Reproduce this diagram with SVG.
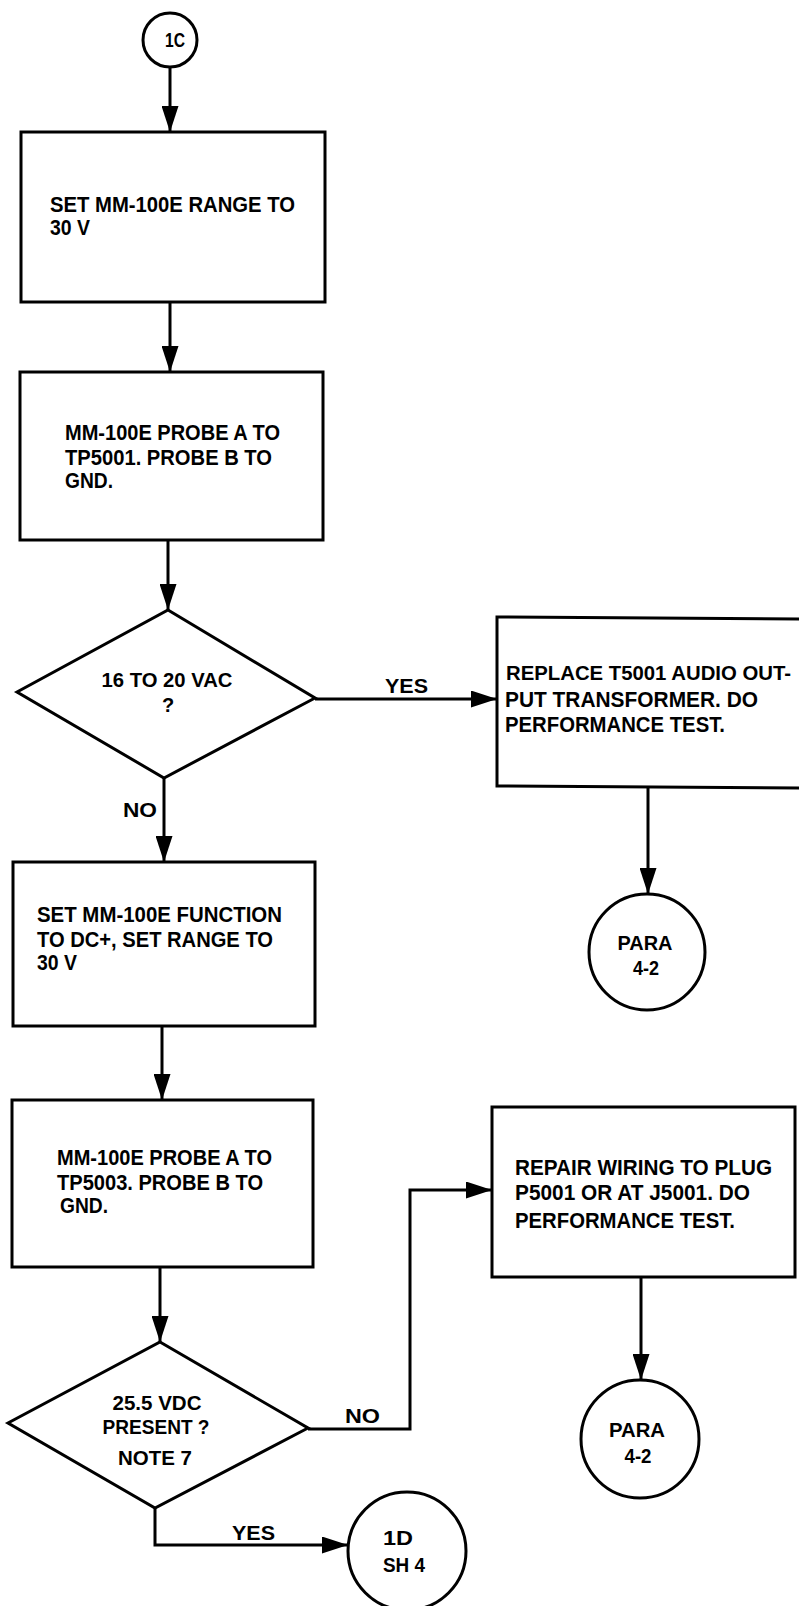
<svg xmlns="http://www.w3.org/2000/svg" width="799" height="1606" viewBox="0 0 799 1606">
  <style>
    .shape { fill: none; stroke: #000; stroke-width: 3; stroke-linejoin: miter; }
    .wire { fill: none; stroke: #000; stroke-width: 3; }
    .txt { font-family: "Liberation Sans Narrow", "Liberation Sans", Arial, sans-serif; font-weight: bold; font-size: 22px; fill: #000; }
    .lbl { font-family: "Liberation Sans Narrow", "Liberation Sans", Arial, sans-serif; font-weight: bold; font-size: 20px; fill: #000; }
  </style>
  <defs>
    <marker id="arrow" viewBox="0 0 26 17" markerWidth="26" markerHeight="17" refX="26" refY="8.5" markerUnits="userSpaceOnUse" orient="auto">
      <path d="M0,0 L26,8.5 L0,17 Z" fill="#000"/>
    </marker>
  </defs>
  <rect width="799" height="1606" fill="#fff"/>

  <!-- connectors -->
  <g id="connectors">
    <line class="wire" x1="170" y1="67" x2="170" y2="132" marker-end="url(#arrow)"/>
    <line class="wire" x1="170" y1="302" x2="170" y2="372" marker-end="url(#arrow)"/>
    <line class="wire" x1="168" y1="540" x2="168" y2="610" marker-end="url(#arrow)"/>
    <line class="wire" x1="315" y1="699" x2="497" y2="699" marker-end="url(#arrow)"/>
    <text class="lbl" x="385" y="693" textLength="43" lengthAdjust="spacingAndGlyphs">YES</text>
    <line class="wire" x1="164" y1="778" x2="164" y2="862" marker-end="url(#arrow)"/>
    <text class="lbl" x="123" y="817" textLength="34" lengthAdjust="spacingAndGlyphs">NO</text>
    <line class="wire" x1="648" y1="786" x2="648" y2="894" marker-end="url(#arrow)"/>
    <line class="wire" x1="162" y1="1026" x2="162" y2="1100" marker-end="url(#arrow)"/>
    <line class="wire" x1="160" y1="1267" x2="160" y2="1342" marker-end="url(#arrow)"/>
    <polyline class="wire" points="308,1429 410,1429 410,1190 492,1190" marker-end="url(#arrow)"/>
    <text class="lbl" x="345" y="1423" textLength="35" lengthAdjust="spacingAndGlyphs">NO</text>
    <line class="wire" x1="641" y1="1277" x2="641" y2="1380" marker-end="url(#arrow)"/>
    <polyline class="wire" points="155,1508 155,1545 348,1545" marker-end="url(#arrow)"/>
    <text class="lbl" x="232" y="1540" textLength="43" lengthAdjust="spacingAndGlyphs">YES</text>
  </g>

  <!-- entry connector 1C -->
  <g id="conn-1c">
    <circle class="shape" cx="170" cy="40" r="27"/>
    <text class="lbl" x="175" y="47" text-anchor="middle" textLength="20" lengthAdjust="spacingAndGlyphs">1C</text>
  </g>

  <g id="set-range">
    <rect class="shape" x="21" y="132" width="304" height="170"/>
    <text class="txt" x="50" y="212" textLength="245" lengthAdjust="spacingAndGlyphs">SET MM-100E RANGE TO</text>
    <text class="txt" x="50" y="235" textLength="40" lengthAdjust="spacingAndGlyphs">30 V</text>
  </g>

  <g id="probe-tp5001">
    <rect class="shape" x="20" y="372" width="303" height="168"/>
    <text class="txt" x="65" y="440" textLength="215" lengthAdjust="spacingAndGlyphs">MM-100E PROBE A TO</text>
    <text class="txt" x="65" y="465" textLength="207" lengthAdjust="spacingAndGlyphs">TP5001.  PROBE B TO</text>
    <text class="txt" x="65" y="488" textLength="48" lengthAdjust="spacingAndGlyphs">GND.</text>
  </g>

  <g id="check-vac">
    <polygon class="shape" points="168,610 315,698 164,778 17,692"/>
    <text class="lbl" x="167" y="687" text-anchor="middle" textLength="131" lengthAdjust="spacingAndGlyphs">16 TO 20 VAC</text>
    <text class="lbl" x="168" y="712" text-anchor="middle">?</text>
  </g>

  <g id="replace-t5001">
    <path class="shape" d="M801,619 L497,617 L497,786 L801,788"/>
    <text class="txt" x="506" y="680" style="font-size:20px" textLength="285" lengthAdjust="spacingAndGlyphs">REPLACE T5001 AUDIO OUT-</text>
    <text class="txt" x="505" y="707" textLength="253" lengthAdjust="spacingAndGlyphs">PUT TRANSFORMER.  DO</text>
    <text class="txt" x="505" y="732" textLength="220" lengthAdjust="spacingAndGlyphs">PERFORMANCE TEST.</text>
  </g>

  <g id="para-4-2-a">
    <circle class="shape" cx="647" cy="952" r="58"/>
    <text class="lbl" x="645" y="950" text-anchor="middle" textLength="55" lengthAdjust="spacingAndGlyphs">PARA</text>
    <text class="lbl" x="646" y="975" text-anchor="middle" textLength="26" lengthAdjust="spacingAndGlyphs">4-2</text>
  </g>

  <g id="set-function">
    <rect class="shape" x="13" y="862" width="302" height="164"/>
    <text class="txt" x="37" y="922" textLength="245" lengthAdjust="spacingAndGlyphs">SET MM-100E FUNCTION</text>
    <text class="txt" x="37" y="947" textLength="236" lengthAdjust="spacingAndGlyphs">TO DC+, SET RANGE TO</text>
    <text class="txt" x="37" y="970" textLength="40" lengthAdjust="spacingAndGlyphs">30 V</text>
  </g>

  <g id="probe-tp5003">
    <rect class="shape" x="12" y="1100" width="301" height="167"/>
    <text class="txt" x="57" y="1165" textLength="215" lengthAdjust="spacingAndGlyphs">MM-100E PROBE A TO</text>
    <text class="txt" x="57" y="1190" textLength="206" lengthAdjust="spacingAndGlyphs">TP5003.  PROBE B TO</text>
    <text class="txt" x="60" y="1213" textLength="48" lengthAdjust="spacingAndGlyphs">GND.</text>
  </g>

  <g id="repair-wiring">
    <rect class="shape" x="492" y="1107" width="303" height="170"/>
    <text class="txt" x="515" y="1175" textLength="257" lengthAdjust="spacingAndGlyphs">REPAIR WIRING TO PLUG</text>
    <text class="txt" x="515" y="1200" textLength="235" lengthAdjust="spacingAndGlyphs">P5001 OR AT J5001.  DO</text>
    <text class="txt" x="515" y="1228" textLength="220" lengthAdjust="spacingAndGlyphs">PERFORMANCE TEST.</text>
  </g>

  <g id="check-vdc">
    <polygon class="shape" points="160,1342 308,1428 155,1508 8,1423"/>
    <text class="lbl" x="157" y="1410" text-anchor="middle" textLength="89" lengthAdjust="spacingAndGlyphs">25.5 VDC</text>
    <text class="lbl" x="156" y="1434" text-anchor="middle" textLength="107" lengthAdjust="spacingAndGlyphs">PRESENT ?</text>
    <text class="lbl" x="155" y="1465" text-anchor="middle" textLength="74" lengthAdjust="spacingAndGlyphs">NOTE 7</text>
  </g>

  <g id="para-4-2-b">
    <circle class="shape" cx="640" cy="1439" r="59"/>
    <text class="lbl" x="637" y="1437" text-anchor="middle" textLength="56" lengthAdjust="spacingAndGlyphs">PARA</text>
    <text class="lbl" x="638" y="1463" text-anchor="middle" textLength="27" lengthAdjust="spacingAndGlyphs">4-2</text>
  </g>

  <g id="conn-1d-sh4">
    <circle class="shape" cx="407" cy="1551" r="59"/>
    <text class="lbl" x="398" y="1545" text-anchor="middle" textLength="30" lengthAdjust="spacingAndGlyphs">1D</text>
    <text class="lbl" x="404" y="1572" text-anchor="middle" textLength="42" lengthAdjust="spacingAndGlyphs">SH 4</text>
  </g>
</svg>
